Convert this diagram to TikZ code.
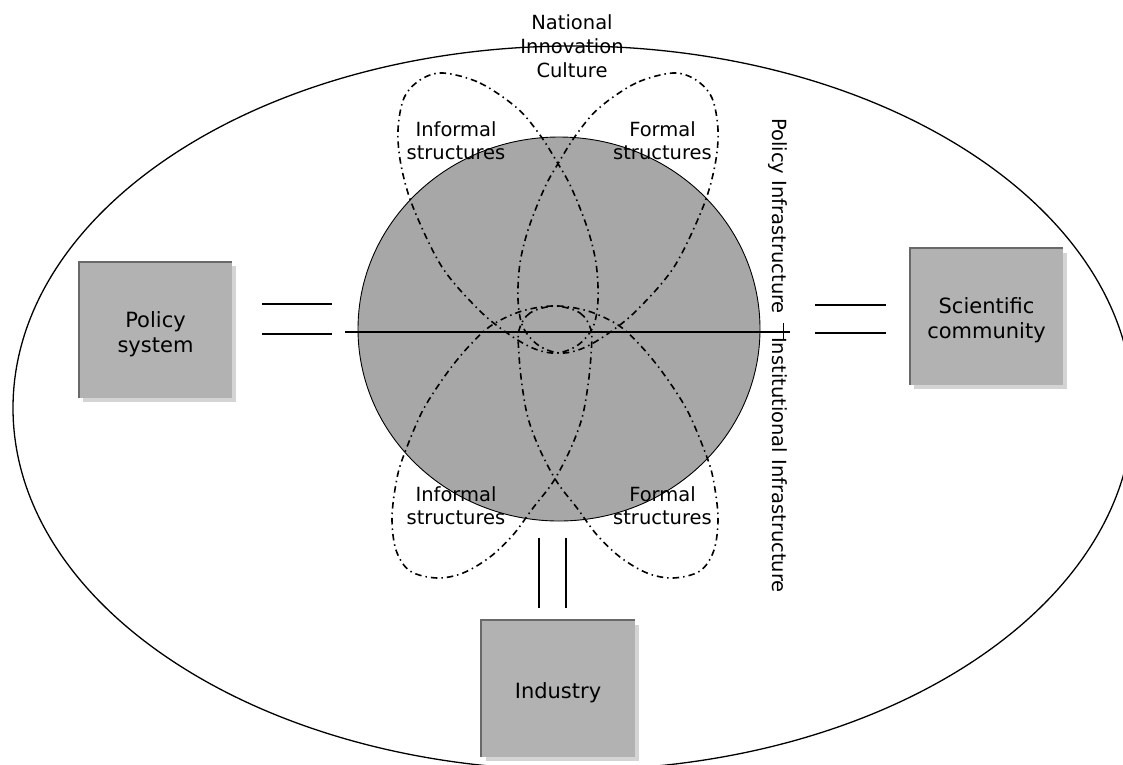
\documentclass[tikz,border=0pt]{standalone}
\usepackage{fontspec}
\setmainfont{DejaVu Sans}
\usetikzlibrary{shadows,shapes.geometric}
\definecolor{boxgray}{RGB}{178,178,178}
\definecolor{edgegray}{RGB}{105,105,105}
\definecolor{shadowgray}{RGB}{212,212,212}
\definecolor{circgray}{RGB}{167,167,167}
\begin{document}
\begin{tikzpicture}[x=1pt,y=-1pt,
  boxnode/.style={rectangle, fill=boxgray, minimum width=153pt, minimum height=136pt, inner sep=0pt,
    drop shadow={shadow xshift=4pt, shadow yshift=-4pt, fill=shadowgray, opacity=1}},
  boxedge/.style={edgegray, line width=2pt},
  loopline/.style={line width=1.6pt, dash pattern=on 6.5pt off 4pt on 1.5pt off 4pt},
  linkline/.style={line width=1.1pt},
  lbl/.style={font=\fontsize{19.5}{23}\selectfont, align=center, inner sep=0pt},
  boxlbl/.style={font=\fontsize{21}{25}\selectfont, align=center, inner sep=0pt},
]
\useasboundingbox (0,0) rectangle (1123,764);
\clip (0,0) rectangle (1123,764);
\fill[white] (0,0) rectangle (1123,764);

% outer oval
\draw[line width=1.3pt] (573,408) ellipse [x radius=560pt, y radius=362pt];

% central circle
\node[ellipse, draw, line width=0.9pt, fill=circgray, minimum width=402pt, minimum height=384pt, inner sep=0pt] (core) at (559,329) {};

% loops
\def\toploop{plot[smooth cycle, tension=0.55] coordinates {(443,73) (480,83) (517,108) (540,135) (557,162) (571,187) (587,227) (596,263) (598,300) (593,327) (578,345) (557,353) (535,349) (510,335) (480,311) (442,267) (413,207) (401,165) (398,130) (404,98) (420,80)}}
\def\botloop{plot[smooth cycle, tension=0.55] coordinates {(555,306) (580,313) (591,330) (591,355) (588,385) (582,418) (570,450) (553,482) (533,508) (513,535) (490,557) (463,573) (437,578) (410,571) (396,550) (392,517) (397,478) (405,452) (423,410) (447,373) (470,345) (492,325) (522,311)}}
\draw[loopline] \toploop;
\begin{scope}[xshift=1116pt, xscale=-1]
\draw[loopline] \toploop;
\end{scope}
\draw[loopline] \botloop;
\begin{scope}[xshift=1110pt, xscale=-1]
\draw[loopline] \botloop;
\end{scope}

% horizontal axis
\coordinate (hl) at (345,332);
\coordinate (hr) at (790,332);
\draw[linkline] (hl) -- (hr);
\coordinate (tk1) at (783,323);
\coordinate (tk2) at (783,339);
\draw[line width=1pt] (tk1) -- (tk2);

% boxes
\node[boxnode, label={[boxlbl, yshift=-4pt]center:{Policy\\system}}] (pol) at (155.5,330) {};
\draw[boxedge] (pol.south west) -- (pol.north west) -- (pol.north east);
\node[boxnode, label={[boxlbl, yshift=-4pt]center:{Scientific\\community}}] (sci) at (986.5,316.5) {};
\draw[boxedge] (sci.south west) -- (sci.north west) -- (sci.north east);
\node[boxnode, label={[boxlbl, yshift=-4pt]center:{Industry}}] (ind) at (558,688.5) {};
\draw[boxedge] (ind.south west) -- (ind.north west) -- (ind.north east);

% double connectors
\coordinate (pa1) at (262,304); \coordinate (pb1) at (332,304);
\coordinate (pa2) at (262,334); \coordinate (pb2) at (332,334);
\draw[linkline] (pa1) -- (pb1);
\draw[linkline] (pa2) -- (pb2);
\coordinate (sa1) at (815,305); \coordinate (sb1) at (886,305);
\coordinate (sa2) at (815,333); \coordinate (sb2) at (886,333);
\draw[linkline] (sa1) -- (sb1);
\draw[linkline] (sa2) -- (sb2);
\coordinate (ia1) at (539,538); \coordinate (ib1) at (539,608);
\coordinate (ia2) at (566,538); \coordinate (ib2) at (566,608);
\draw[linkline] (ia1) -- (ib1);
\draw[linkline] (ia2) -- (ib2);

% labels
\node[lbl, font=\fontsize{19.5}{24}\selectfont] (nic) at (572,46.6) {National\\Innovation\\Culture};
\node[lbl] (tl) at (456,141) {Informal\\structures};
\node[lbl] (tr) at (662.5,141) {Formal\\structures};
\node[lbl] (bl) at (456,506) {Informal\\structures};
\node[lbl] (br) at (662.5,506) {Formal\\structures};

% vertical labels
\node[lbl, rotate=-90, anchor=base west] (vt1) at (772,118) {Policy Infrastructure};
\node[lbl, rotate=-90, anchor=base west] (vt2) at (772,337) {Institutional Infrastructure};
\end{tikzpicture}
\end{document}
